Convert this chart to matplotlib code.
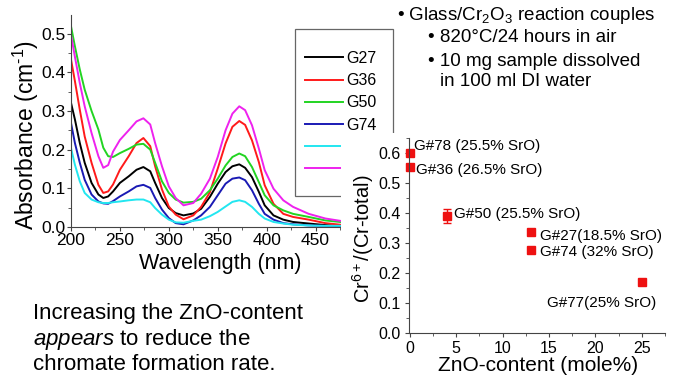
import matplotlib
matplotlib.use("Agg")
import matplotlib.pyplot as plt
from matplotlib.patches import Rectangle
from matplotlib.ticker import MultipleLocator

plt.rcParams["font.family"] = ["Liberation Sans", "DejaVu Sans"]
plt.rcParams["mathtext.fontset"] = "custom"
plt.rcParams["mathtext.rm"] = "Liberation Sans"
plt.rcParams["mathtext.it"] = "Liberation Sans:italic"
plt.rcParams["mathtext.bf"] = "Liberation Sans:bold"

# ---- UV-vis spectra of the dissolved reaction-couple samples ----
wavelength = [200, 204, 209, 214, 221, 228, 233, 238, 243, 250, 259, 267, 274, 281,
              286, 293, 300, 307, 315, 325, 333, 342, 350, 358, 365, 372, 378, 385,
              392, 398, 407, 417, 427, 443, 460, 475]

abs_g27 = [0.321, 0.278, 0.217, 0.166, 0.114, 0.084, 0.075, 0.079, 0.092, 0.114, 0.131,
           0.148, 0.155, 0.144, 0.114, 0.075, 0.049, 0.036, 0.030, 0.035, 0.047, 0.078,
           0.112, 0.142, 0.157, 0.162, 0.153, 0.129, 0.091, 0.056, 0.030, 0.019, 0.013,
           0.009, 0.005, 0.003]
abs_g36 = [0.433, 0.377, 0.303, 0.234, 0.166, 0.109, 0.088, 0.092, 0.110, 0.148, 0.183,
           0.217, 0.230, 0.209, 0.157, 0.097, 0.053, 0.032, 0.020, 0.030, 0.052, 0.090,
           0.151, 0.216, 0.259, 0.274, 0.264, 0.224, 0.168, 0.108, 0.060, 0.034, 0.026,
           0.019, 0.010, 0.006]
abs_g50 = [0.519, 0.467, 0.407, 0.355, 0.300, 0.252, 0.205, 0.183, 0.181, 0.191, 0.202,
           0.213, 0.215, 0.200, 0.166, 0.118, 0.088, 0.071, 0.063, 0.065, 0.073, 0.095,
           0.125, 0.159, 0.181, 0.190, 0.183, 0.155, 0.116, 0.082, 0.056, 0.043, 0.034,
           0.026, 0.017, 0.013]
abs_g74 = [0.269, 0.217, 0.166, 0.122, 0.084, 0.066, 0.061, 0.060, 0.067, 0.079, 0.092,
           0.105, 0.109, 0.101, 0.075, 0.045, 0.023, 0.010, 0.007, 0.017, 0.030, 0.052,
           0.082, 0.112, 0.125, 0.128, 0.121, 0.095, 0.060, 0.034, 0.019, 0.010, 0.007,
           0.004, 0.003, 0.002]
abs_g77 = [0.204, 0.161, 0.118, 0.088, 0.071, 0.064, 0.062, 0.062, 0.064, 0.066, 0.069,
           0.071, 0.071, 0.064, 0.049, 0.032, 0.019, 0.012, 0.011, 0.016, 0.019, 0.028,
           0.039, 0.053, 0.065, 0.069, 0.065, 0.052, 0.034, 0.022, 0.013, 0.009, 0.006,
           0.004, 0.003, 0.003]
abs_g78 = [0.497, 0.440, 0.372, 0.312, 0.243, 0.183, 0.153, 0.160, 0.195, 0.225, 0.250,
           0.273, 0.281, 0.265, 0.217, 0.157, 0.105, 0.075, 0.056, 0.062, 0.086, 0.125,
           0.181, 0.250, 0.293, 0.312, 0.302, 0.263, 0.203, 0.147, 0.099, 0.069, 0.052,
           0.034, 0.022, 0.016]

spectra = [abs_g27, abs_g36, abs_g50, abs_g74, abs_g77, abs_g78]
legend_names = ["G27", "G36", "G50", "G74", "", ""]
spectra_colors = ["black", "#ff1a1a", "#22d422", "#1a1ab4", "#22e6f0", "#ee22ee"]

# ---- Cr6+ fraction versus ZnO content ----
zno_content = [0, 0, 4, 13, 13, 25]
cr6_fraction = [0.600, 0.553, 0.390, 0.338, 0.277, 0.171]
cr6_error = [0.010, 0.010, 0.024, 0.010, 0.006, 0.006]
glass_labels = ["G#78 (25.5% SrO)", "G#36 (26.5% SrO)", "G#50 (25.5% SrO)",
                "G#27(18.5% SrO)", "G#74 (32% SrO)", "G#77(25% SrO)"]

W, H = 676, 377
fig = plt.figure(figsize=(W / 100, H / 100), dpi=100)


def fx(px):
    return px / W


def fy(py):
    return 1 - py / H


# left panel: spectra
ax1 = fig.add_axes([fx(71), fy(227), fx(341) - fx(71), fy(15) - fy(227)])
handles = []
for vals, col in zip(spectra, spectra_colors):
    (ln,) = ax1.plot(wavelength, vals, color=col, lw=1.4)
    handles.append(ln)
ax1.set_xlim(200, 476)
ax1.set_ylim(0, 0.548)
ax1.xaxis.set_major_locator(MultipleLocator(50))
ax1.xaxis.set_minor_locator(MultipleLocator(25))
ax1.yaxis.set_major_locator(MultipleLocator(0.1))
ax1.yaxis.set_minor_locator(MultipleLocator(0.05))
ax1.yaxis.set_major_formatter(plt.FormatStrFormatter("%.1f"))
for s in ("top", "right"):
    ax1.spines[s].set_visible(False)
for s in ("left", "bottom"):
    ax1.spines[s].set_color("#444444")
ax1.tick_params(which="major", direction="out", length=3, width=0.8, pad=1,
                labelsize=12.5, color="#444444")
ax1.tick_params(which="minor", direction="out", length=2, width=0.6, color="#444444")
ax1.set_xlabel("Wavelength (nm)", fontsize=15.5)
ax1.xaxis.set_label_coords((220 - 71) / 270, -(253 - 227) / 212)
ax1.set_ylabel(r"Absorbance (cm$^{\text{-1}}$)", fontsize=16.5)
ax1.yaxis.set_label_coords((41 - 71) / 270, (227 - 135) / 212)

ax1.legend(handles, legend_names, loc="upper left",
           bbox_to_anchor=(fx(305), fy(51)), bbox_transform=fig.transFigure,
           frameon=False, borderpad=0, borderaxespad=0, fontsize=11.5,
           handlelength=2.4, handletextpad=0.2, labelspacing=0.45)

# legend frame
fig.patches.append(Rectangle((fx(295), fy(196)), fx(393) - fx(295), fy(29) - fy(196),
                             transform=fig.transFigure, fill=False,
                             edgecolor="#666666", lw=0.9, zorder=1))
# white backdrop of the right panel
fig.patches.append(Rectangle((fx(341), 0), 1 - fx(341), fy(133),
                             transform=fig.transFigure, facecolor="white",
                             edgecolor="none", zorder=2))

# right panel: Cr6+ fraction
ax2 = fig.add_axes([fx(409), fy(333), fx(665) - fx(409), fy(138) - fy(333)], zorder=3)
ax2.patch.set_alpha(0)
ax2.errorbar(zno_content, cr6_fraction, yerr=cr6_error, fmt="s", color="#ee1111",
             ms=5.5, capsize=3, elinewidth=1, capthick=1, clip_on=False)
ax2.set_xlim(-0.1, 27.5)
ax2.set_ylim(0, 0.65)
ax2.xaxis.set_major_locator(MultipleLocator(5))
ax2.xaxis.set_minor_locator(MultipleLocator(2.5))
ax2.yaxis.set_major_locator(MultipleLocator(0.1))
ax2.yaxis.set_minor_locator(MultipleLocator(0.05))
ax2.yaxis.set_major_formatter(plt.FormatStrFormatter("%.1f"))
for s in ("top", "right"):
    ax2.spines[s].set_visible(False)
for s in ("left", "bottom"):
    ax2.spines[s].set_color("#444444")
ax2.tick_params(which="major", direction="out", length=3, width=0.8, pad=3,
                labelsize=11.5, color="#444444")
ax2.tick_params(which="minor", direction="out", length=2, width=0.6, color="#444444")
ax2.set_xlabel("ZnO-content (mole%)", fontsize=15)
ax2.xaxis.set_label_coords((538 - 409) / 256, -(356 - 333) / 195)
ax2.set_ylabel("Cr$^{6+}$/(Cr-total)", fontsize=14.5)
ax2.yaxis.set_label_coords((376 - 409) / 256, (333 - 239) / 195)

offsets = [(4, 7, "left"), (6, -3, "left"), (7, 2, "left"),
           (9, -4, "left"), (9, -2, "left"), (14, -21, "right")]
for x, y, lab, (dx, dy, ha) in zip(zno_content, cr6_fraction, glass_labels, offsets):
    ax2.annotate(lab, (x, y), xytext=(dx, dy), textcoords="offset pixels",
                 ha=ha, va="center", fontsize=11)

# notes
fig.text(fx(397), fy(15), "\u2022 Glass/Cr$_2$O$_3$ reaction couples", fontsize=13.5,
         va="center", ha="left")
fig.text(fx(428), fy(38), "\u2022 820\u00b0C/24 hours in air", fontsize=13.5,
         va="center", ha="left")
fig.text(fx(428), fy(61), "\u2022 10 mg sample dissolved", fontsize=13.5,
         va="center", ha="left")
fig.text(fx(440), fy(82), "in 100 ml DI water", fontsize=13.5, va="center", ha="left")

fig.text(fx(33), fy(313), "Increasing the ZnO-content", fontsize=16, va="center")
fig.text(fx(33), fy(339), r"$\it{appears}$ to reduce the", fontsize=16, va="center")
fig.text(fx(33), fy(365), "chromate formation rate.", fontsize=16, va="center")

fig.savefig("out.png", dpi=100)
